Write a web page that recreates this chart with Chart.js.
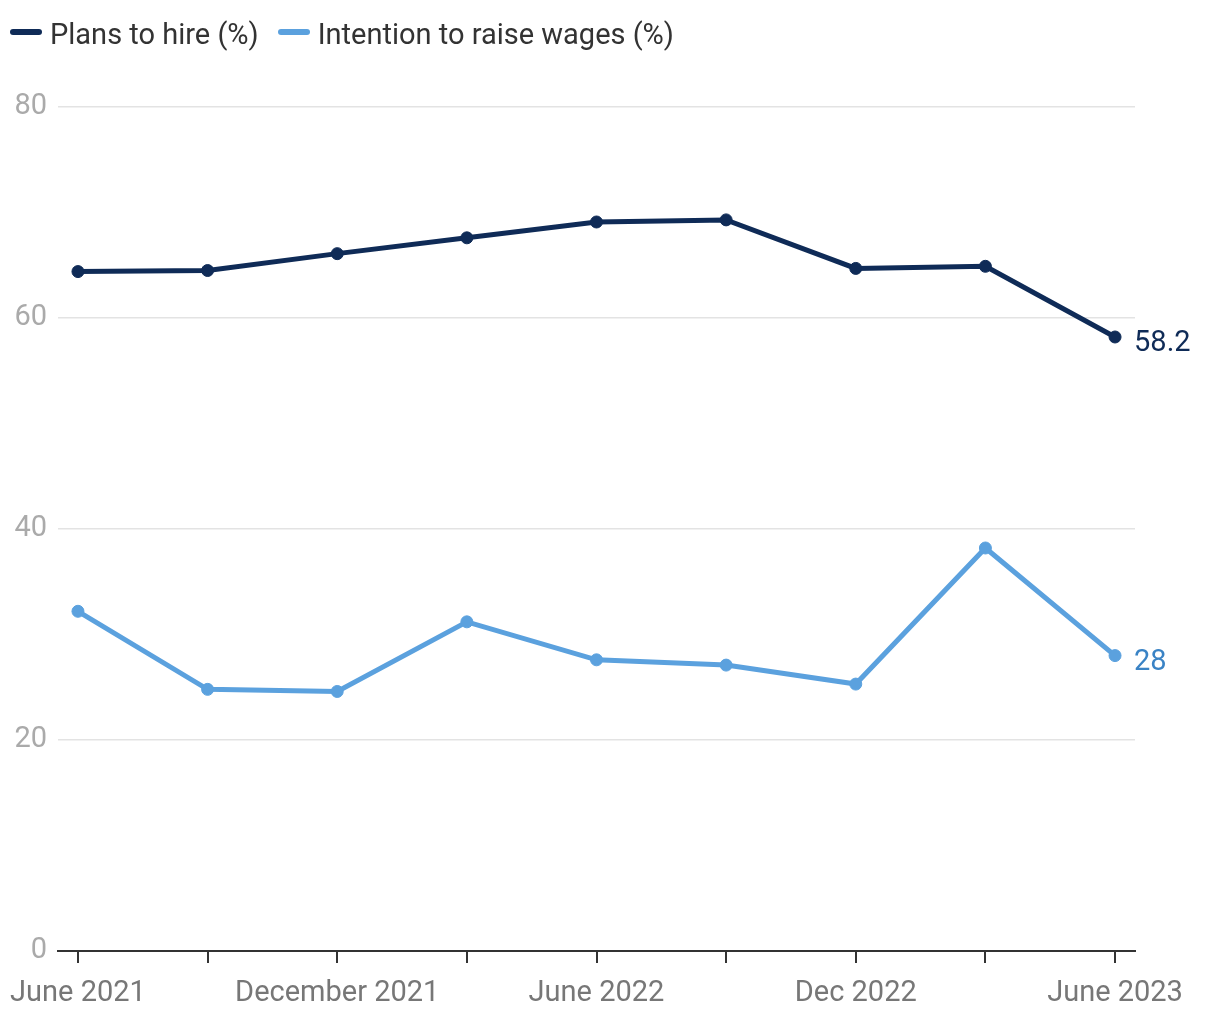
<!DOCTYPE html>
<html>
<head>
<meta charset="utf-8">
<script src="https://cdn.jsdelivr.net/npm/chart.js@4.4.0/dist/chart.umd.min.js"></script>
<style>
  html, body { margin: 0; padding: 0; background: #fff; }
  #wrap { width: 1220px; height: 1020px; position: relative; }
  #legend {
    position: absolute; left: 10px; top: 17px; height: 34px;
    display: flex; align-items: center;
    font: 29px Roboto, sans-serif; line-height: 34px; color: #333;
  }
  #legend .item { display: flex; align-items: center; margin-right: 19px; }
  #legend .swatch {
    display: inline-block; width: 32px; height: 6px; border-radius: 3px;
    margin-right: 8px; position: relative; top: -2px;
  }
</style>
</head>
<body>
<div id="wrap">
  <div id="legend"></div>
  <canvas id="chart"></canvas>
</div>
<script>
// quarterly survey points, June 2021 .. June 2023
const categories = ['June 2021', 'Sep 2021', 'Dec 2021', 'Mar 2022', 'June 2022', 'Sep 2022', 'Dec 2022', 'Mar 2023', 'June 2023'];
const tickLabels = ['June 2021', '', 'December 2021', '', 'June 2022', '', 'Dec 2022', '', 'June 2023'];
const plansToHire = [64.4, 64.5, 66.1, 67.6, 69.1, 69.3, 64.7, 64.9, 58.2];
const raiseWages = [32.2, 24.8, 24.6, 31.2, 27.6, 27.1, 25.3, 38.2, 28];
const yTicks = [0, 20, 40, 60, 80];

const NAVY = '#0f2b57';
const BLUE = '#5ba1de';
const FONT = 'Roboto';

// writes the last value next to the end of each line
const endLabels = {
  id: 'endLabels',
  afterDatasetsDraw(chart) {
    const ctx = chart.ctx;
    ctx.save();
    ctx.font = `29px ${FONT}`;
    ctx.textAlign = 'left';
    ctx.textBaseline = 'middle';
    chart.data.datasets.forEach((ds, i) => {
      const meta = chart.getDatasetMeta(i);
      const pt = meta.data[meta.data.length - 1];
      ctx.fillStyle = ds.labelColor;
      ctx.fillText(String(ds.data[ds.data.length - 1].y), pt.x + 19, pt.y + 7);
    });
    ctx.restore();
  }
};

const toPoints = arr => arr.map((v, i) => ({ x: i, y: v }));

const chart = new Chart(document.getElementById('chart'), {
  type: 'line',
  data: {
    datasets: [
      {
        label: 'Plans to hire (%)',
        data: toPoints(plansToHire),
        borderColor: NAVY,
        backgroundColor: NAVY,
        labelColor: NAVY,
        borderWidth: 5,
        pointRadius: 6,
        pointBorderWidth: 1,
        pointBackgroundColor: NAVY,
        tension: 0
      },
      {
        label: 'Intention to raise wages (%)',
        data: toPoints(raiseWages),
        borderColor: BLUE,
        backgroundColor: BLUE,
        labelColor: '#3a83c5',
        borderWidth: 5,
        pointRadius: 6,
        pointBorderWidth: 1,
        pointBackgroundColor: BLUE,
        tension: 0
      }
    ]
  },
  options: {
    responsive: true,
    maintainAspectRatio: false,
    animation: false,
    layout: { padding: { top: 107, right: 85, bottom: -5, left: 0 } },
    plugins: {
      tooltip: { enabled: false },
      legend: { display: false }
    },
    scales: {
      x: {
        type: 'linear',
        min: -0.154,
        max: 8.154,
        afterBuildTicks(scale) {
          scale.ticks = categories.map((_, i) => ({ value: i }));
        },
        // the end labels already sit inside the margins
        afterFit(scale) {
          scale.paddingLeft = 0;
          scale.paddingRight = 0;
        },
        grid: {
          drawOnChartArea: false,
          drawTicks: true,
          tickLength: 12,
          color: '#333',
          lineWidth: 2
        },
        border: { display: true, color: '#333', width: 2 },
        ticks: {
          autoSkip: false,
          maxRotation: 0,
          padding: 15.6,
          color: '#777',
          font: { family: FONT, size: 29, lineHeight: 1.062 },
          callback: (v) => tickLabels[v] ?? ''
        }
      },
      y: {
        min: 0,
        max: 80,
        afterBuildTicks(scale) {
          scale.ticks = yTicks.map(v => ({ value: v }));
        },
        afterFit(scale) { scale.width = 58; },
        grid: { color: '#e3e3e3', lineWidth: 1.5, drawTicks: false },
        border: { display: false },
        ticks: {
          padding: 11,
          color: '#aaa',
          font: { family: FONT, size: 29 }
        }
      }
    }
  },
  plugins: [endLabels]
});

// legend as html, built from the datasets
const legendEl = document.getElementById('legend');
chart.data.datasets.forEach(ds => {
  const item = document.createElement('span');
  item.className = 'item';
  const sw = document.createElement('span');
  sw.className = 'swatch';
  sw.style.background = ds.borderColor;
  item.appendChild(sw);
  item.appendChild(document.createTextNode(ds.label));
  legendEl.appendChild(item);
});
</script>
</body>
</html>
